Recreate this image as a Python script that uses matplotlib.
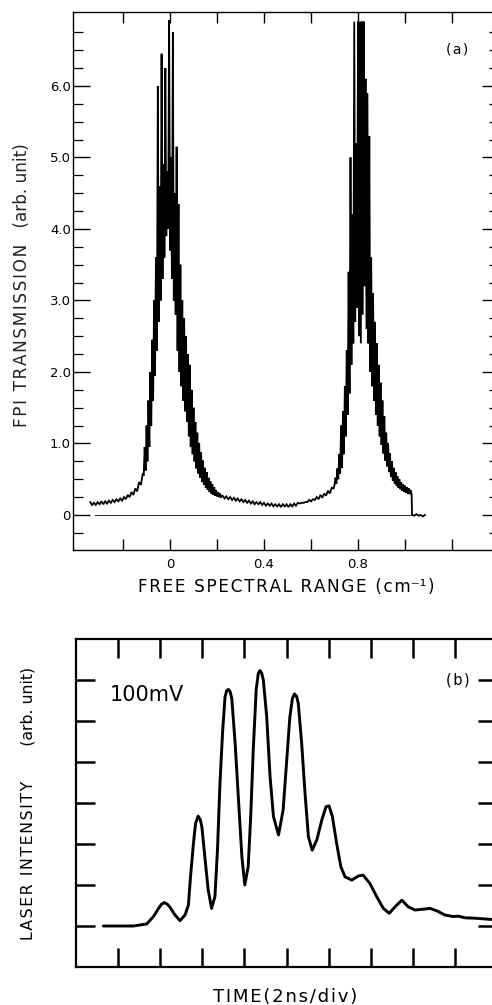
import numpy as np
import matplotlib
matplotlib.use("Agg")
import matplotlib.pyplot as plt

plt.rcParams['font.family'] = ['DejaVu Sans']

# ---------------- Panel (a): FPI transmission trace ----------------
# left background (x from -0.340 to -0.116)
bgL_range = (-0.340, -0.116)
bgL_y = [0.18, 0.14, 0.17, 0.14, 0.18, 0.15, 0.19, 0.15, 0.19, 0.16,
         0.20, 0.17, 0.21, 0.18, 0.22, 0.19, 0.23, 0.20, 0.25, 0.22,
         0.28, 0.25, 0.32, 0.28, 0.37, 0.33, 0.46, 0.42, 0.58]

# first transmission peak (x from -0.112 to 0.220)
pk1_range = (-0.112, 0.220)
pk1_y = [0.55, 0.95, 0.62, 1.25, 0.75, 1.60, 0.95, 2.00, 1.25, 2.45,
         1.60, 3.00, 1.95, 3.60, 2.30, 6.00, 2.70, 4.60, 3.00, 6.45,
         3.30, 4.90, 3.60, 6.25, 3.90, 4.80, 4.00, 6.92, 3.70, 5.00,
         3.30, 6.75, 3.00, 4.50, 2.80, 5.15, 2.30, 4.35, 2.00, 3.50,
         1.80, 3.00, 1.60, 2.75, 1.45, 2.50, 1.30, 2.25, 1.10, 2.10,
         0.95, 1.75, 0.85, 1.50, 0.75, 1.30, 0.65, 1.15, 0.58, 1.00,
         0.52, 0.88, 0.46, 0.76, 0.42, 0.66, 0.38, 0.60, 0.35, 0.52,
         0.32, 0.47, 0.30, 0.43, 0.28, 0.39, 0.27, 0.35, 0.26, 0.32,
         0.25, 0.30, 0.24, 0.27]

# middle background (x from 0.224 to 0.696)
bgM_range = (0.224, 0.696)
bgM_y = [0.27, 0.23, 0.26, 0.22, 0.25, 0.21, 0.24, 0.20, 0.23, 0.19,
         0.22, 0.18, 0.21, 0.17, 0.20, 0.16, 0.19, 0.15, 0.18, 0.15,
         0.18, 0.14, 0.17, 0.13, 0.16, 0.13, 0.16, 0.12, 0.15, 0.12,
         0.15, 0.11, 0.15, 0.12, 0.15, 0.11, 0.15, 0.12, 0.16, 0.13,
         0.17, 0.16, 0.17, 0.17, 0.18, 0.18, 0.21, 0.19, 0.22, 0.21,
         0.25, 0.22, 0.28, 0.24, 0.30, 0.27, 0.34, 0.30, 0.38, 0.37]

# second transmission peak (x from 0.700 to 1.028)
pk2_range = (0.700, 1.028)
pk2_y = [0.42, 0.52, 0.44, 0.65, 0.50, 0.85, 0.58, 1.25, 0.66, 1.45,
         0.85, 1.80, 1.10, 2.30, 1.40, 3.40, 1.70, 5.00, 2.10, 4.20,
         2.40, 6.90, 2.70, 5.20, 2.90, 6.90, 2.50, 6.90, 2.40, 6.90,
         2.80, 6.90, 3.20, 6.10, 2.60, 5.90, 2.40, 5.30, 2.00, 3.60,
         1.80, 3.10, 1.60, 2.70, 1.40, 2.40, 1.25, 2.10, 1.10, 1.85,
         0.98, 1.60, 0.86, 1.38, 0.76, 1.15, 0.68, 1.00, 0.60, 0.86,
         0.53, 0.75, 0.48, 0.66, 0.44, 0.60, 0.41, 0.54, 0.38, 0.50,
         0.36, 0.46, 0.34, 0.43, 0.32, 0.41, 0.31, 0.39, 0.30, 0.37,
         0.29, 0.35, 0.29]

# tail after the scan drop (x from 1.030 to 1.085)
tail_range = (1.030, 1.085)
tail_y = [0.0, -0.01, 0.01, -0.01, 0.0, -0.02, 0.0]

# zero-transmission reference line
zero_x = [-0.32, 1.02]
zero_y = [0.0, 0.0]

a_xticks = [-0.2, 0.0, 0.2, 0.4, 0.6, 0.8, 1.0, 1.2]
a_xticklabels = ['', '0', '', '0.4', '', '0.8', '', '']
a_yticks = [0, 1, 2, 3, 4, 5, 6]
a_yticklabels = ['0', '1.0', '2.0', '3.0', '4.0', '5.0', '6.0']
a_yminor = [-0.25, 0.25, 0.5, 0.75, 1.25, 1.5, 1.75, 2.25, 2.5, 2.75,
            3.25, 3.5, 3.75, 4.25, 4.5, 4.75, 5.25, 5.5, 5.75,
            6.25, 6.5, 6.75]

# ---------------- Panel (b): laser intensity pulse ----------------
b_x = [0.65, 1.36, 1.68, 1.84, 1.96, 2.03, 2.10, 2.17, 2.23, 2.35,
       2.47, 2.59, 2.67, 2.72, 2.79, 2.84, 2.90, 2.95, 2.99, 3.06,
       3.14, 3.22, 3.30, 3.36, 3.42, 3.48, 3.54, 3.58, 3.62, 3.66,
       3.70, 3.78, 3.86, 3.94, 4.01, 4.09, 4.15, 4.21, 4.28, 4.33,
       4.37, 4.41, 4.45, 4.53, 4.61, 4.69, 4.81, 4.92, 5.00, 5.08,
       5.14, 5.19, 5.24, 5.28, 5.36, 5.44, 5.52, 5.61, 5.72, 5.84,
       5.94, 6.01, 6.09, 6.19, 6.29, 6.39, 6.55, 6.71, 6.82, 6.98,
       7.14, 7.30, 7.44, 7.58, 7.74, 7.89, 8.05, 8.25, 8.41, 8.57,
       8.76, 8.96, 9.08, 9.24, 9.48, 9.87]
b_y = [0.00, 0.00, 0.05, 0.23, 0.43, 0.53, 0.57, 0.53, 0.46, 0.27,
       0.13, 0.27, 0.51, 1.20, 2.02, 2.50, 2.68, 2.60, 2.42, 1.69,
       0.88, 0.43, 0.72, 1.85, 3.48, 4.70, 5.59, 5.74, 5.77, 5.72,
       5.55, 4.46, 3.07, 1.69, 1.00, 1.45, 2.67, 4.29, 5.76, 6.16,
       6.23, 6.17, 6.00, 5.10, 3.64, 2.67, 2.22, 2.83, 3.97, 5.10,
       5.55, 5.66, 5.60, 5.43, 4.46, 3.24, 2.18, 1.85, 2.10, 2.59,
       2.91, 2.93, 2.67, 2.02, 1.45, 1.20, 1.12, 1.22, 1.24, 1.04,
       0.72, 0.43, 0.31, 0.47, 0.63, 0.47, 0.39, 0.41, 0.43, 0.37,
       0.27, 0.23, 0.24, 0.20, 0.19, 0.16]
b_xticks = [1, 2, 3, 4, 5, 6, 7, 8, 9]
b_yticks = [0, 1, 2, 3, 4, 5, 6]

# ---------------- Figure ----------------
W, H = 492, 1005
fig = plt.figure(figsize=(W / 100, H / 100), dpi=100)
fig.patch.set_facecolor('white')
HS = '\u200a'


def spaced(s):
    return HS.join(s)


def fit_text(t, target_px, vertical=False):
    r = fig.canvas.get_renderer()
    for _ in range(3):
        bb = t.get_window_extent(r)
        length = bb.height if vertical else bb.width
        t.set_fontsize(t.get_fontsize() * target_px / length)


# Panel (a)
axa = fig.add_axes([73 / W, 455 / H, 426 / W, 537.7 / H])
segs = [(bgL_range, bgL_y), (pk1_range, pk1_y), (bgM_range, bgM_y),
        (pk2_range, pk2_y), (tail_range, tail_y)]
tx = np.concatenate([np.linspace(r[0], r[1], len(v)) for r, v in segs])
ty = np.concatenate([np.asarray(v, float) for r, v in segs])
axa.plot(tx, ty, color='black', lw=1.3, solid_joinstyle='miter')
axa.plot(zero_x, zero_y, color='black', lw=0.6)
axa.set_xlim(-0.413, 1.4)
axa.set_ylim(-0.49, 7.03)
axa.set_xticks(a_xticks)
axa.set_xticklabels(a_xticklabels)
axa.set_yticks(a_yticks)
axa.set_yticklabels(a_yticklabels)
axa.set_yticks(a_yminor, minor=True)
axa.tick_params(which='both', direction='in', top=True, right=True,
                colors='black', labelsize=9.5)
axa.tick_params(axis='y', which='major', length=12, width=1.0, pad=1.5)
axa.tick_params(axis='y', which='minor', length=7, width=0.9)
axa.tick_params(axis='x', which='major', length=8, width=1.0, pad=6)
for s in axa.spines.values():
    s.set_linewidth(1.0)
axa.text(0.901, 0.93, spaced('(a)'), transform=axa.transAxes, ha='center',
         va='center', fontsize=10)

xla = fig.text(286 / W, 1 - 587 / H,
               spaced('FREE SPECTRAL RANGE (cm') + '\u207b\u00b9' + HS + ')',
               ha='center', va='center', fontsize=11.5)
yla = fig.text(22.5 / W, 1 - 285 / H,
               spaced('FPI TRANSMISSION') + '   (arb. unit)',
               rotation=90, ha='center', va='center', fontsize=11,
               color='#222222')

# Panel (b)
axb = fig.add_axes([76 / W, 38 / H, 421 / W, 328 / H])
axb.plot(b_x, b_y, color='black', lw=2.1, solid_joinstyle='round',
         solid_capstyle='round')
axb.set_xlim(0, 10)
axb.set_ylim(-1, 7)
axb.set_xticks(b_xticks)
axb.set_yticks(b_yticks)
axb.set_xticklabels([])
axb.set_yticklabels([])
axb.tick_params(which='both', direction='in', top=True, right=True,
                length=14, width=1.8, colors='black')
for s in axb.spines.values():
    s.set_linewidth(1.6)
axb.text(0.081, 0.829, '100mV', transform=axb.transAxes, ha='left',
         va='center', fontsize=15)
axb.text(0.907, 0.875, spaced('(b)'), transform=axb.transAxes, ha='center',
         va='center', fontsize=10.5)

xlb = fig.text(285 / W, 1 - 997 / H, spaced('TIME(2ns/div)'), ha='center',
               va='center', fontsize=11)
ylb = fig.text(28 / W, 1 - 803 / H,
               spaced('LASER INTENSITY') + '       (arb. unit)',
               rotation=90, ha='center', va='center', fontsize=10.5)

fit_text(xla, 297)
fit_text(yla, 285, vertical=True)
fit_text(xlb, 144)
fit_text(ylb, 273, vertical=True)

fig.savefig('out.png', dpi=100, facecolor='white')
